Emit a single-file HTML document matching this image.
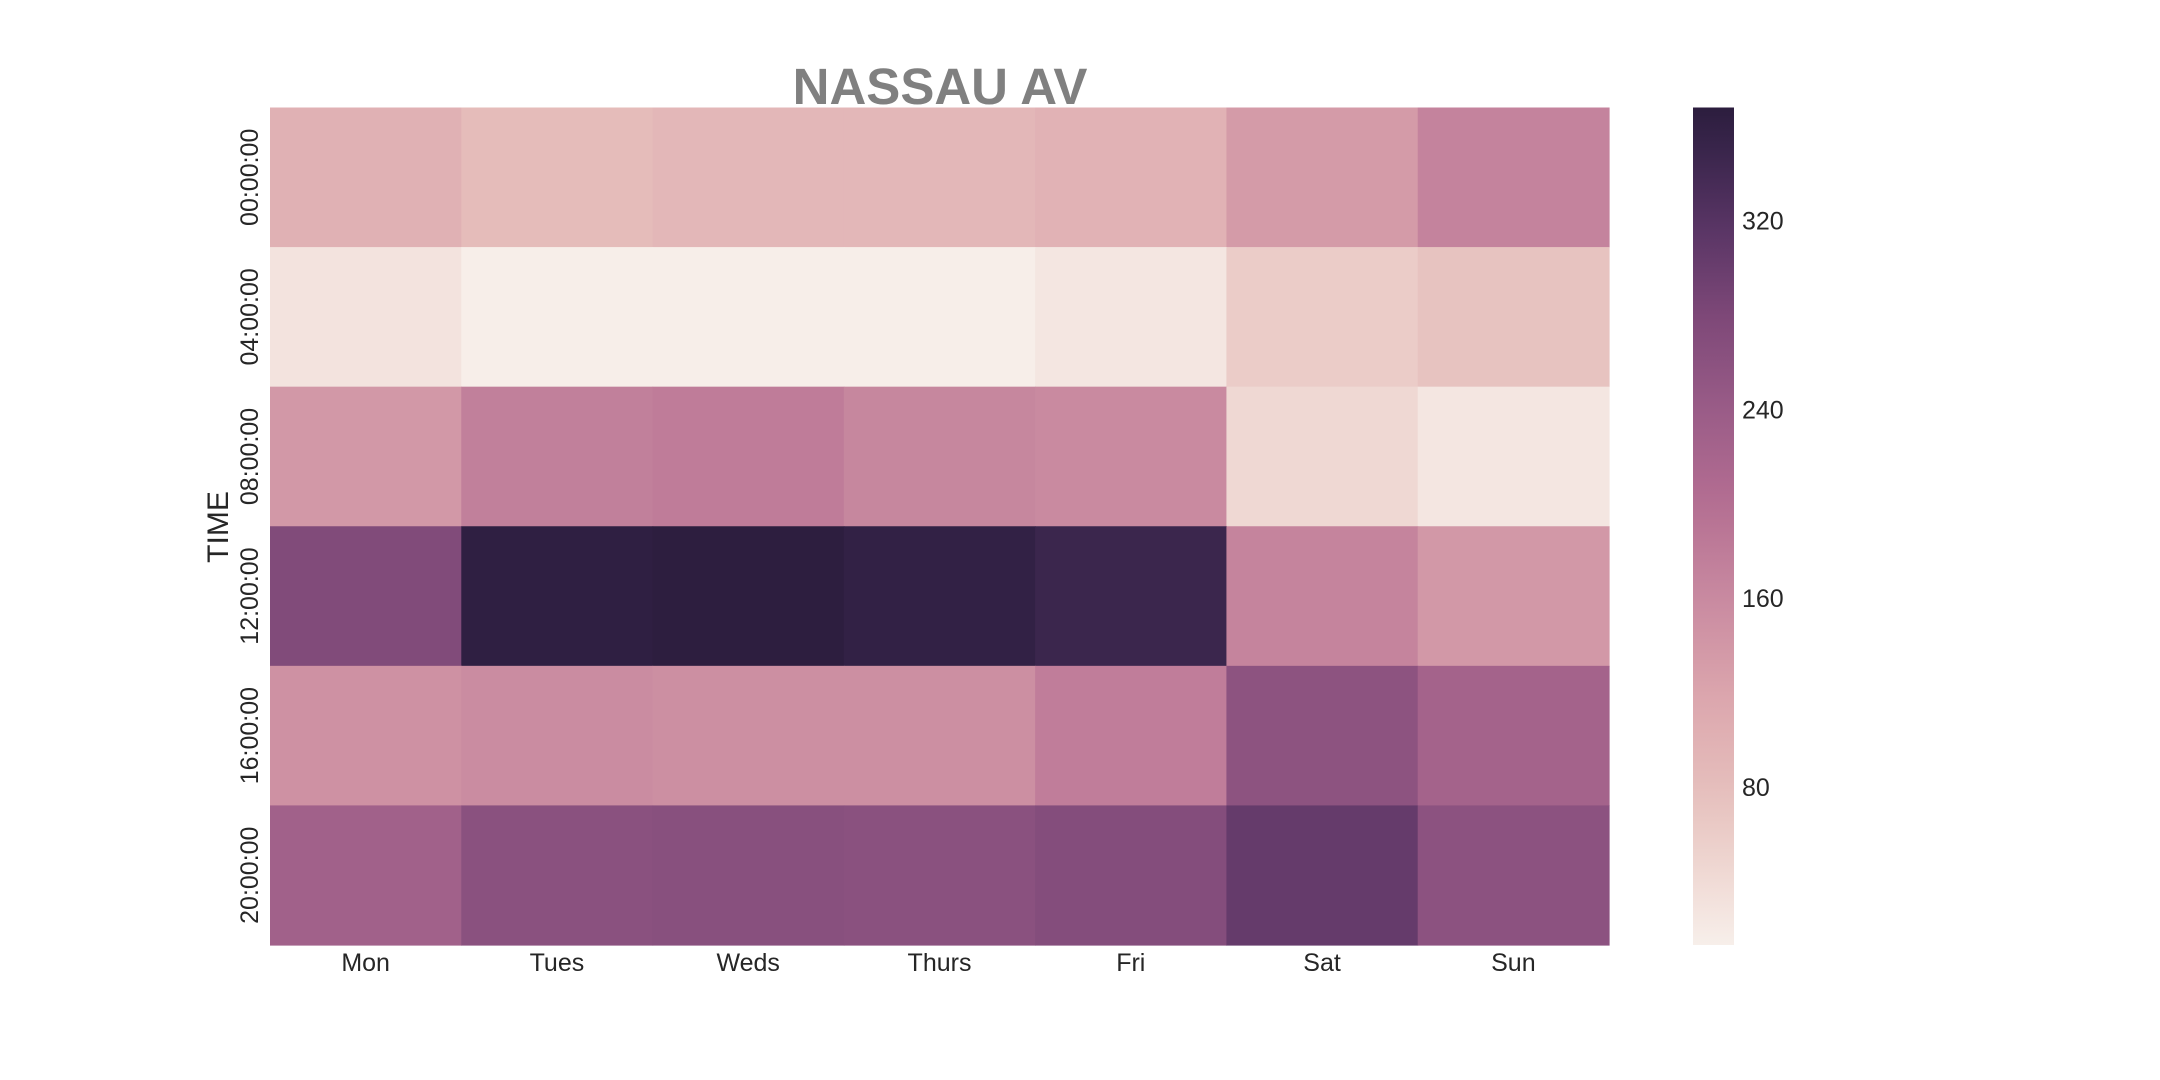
<!DOCTYPE html>
<html><head><meta charset="utf-8"><style>
html,body{margin:0;padding:0;background:#fff;}
svg{display:block;font-family:"Liberation Sans",sans-serif;}
</style></head><body>
<svg id="chart" width="2160" height="1080" viewBox="0 0 2160 1080" xmlns="http://www.w3.org/2000/svg">
<defs><linearGradient id="cbgrad" x1="0" y1="1" x2="0" y2="0"></linearGradient></defs>
<text x="940" y="104" text-anchor="middle" font-size="51" font-weight="bold" fill="#808080">NASSAU AV</text>
<text transform="translate(228,527) rotate(-90)" text-anchor="middle" font-size="30" fill="#262626">TIME</text>
<g id="cells"></g><g id="xt"></g><g id="yt"></g><g id="cb"></g>
</svg>
<script>
const days = ["Mon","Tues","Weds","Thurs","Fri","Sat","Sun"];
const times = ["00:00:00","04:00:00","08:00:00","12:00:00","16:00:00","20:00:00"];
const row0 = [100,82,90,90,98,135,170];
const row1 = [30,14,14,14,25,60,72];
const row2 = [140,175,180,165,160,45,25];
const row3 = [275,362,366,358,348,168,140];
const row4 = [150,157,153,153,178,258,225];
const row5 = [230,262,265,262,270,305,260];
const cbTicks = [80,160,240,320];
const vmin = 13, vmax = 368;

const stops = [[13,[247,239,234]],[50,[238,212,207]],[80,[229,189,187]],[120,[219,165,173]],[160,[201,138,160]],[200,[180,110,146]],[240,[154,92,135]],[280,[125,72,120]],[320,[86,51,99]],[360,[48,32,67]],[368,[44,29,62]]];
function color(v){
  for(let i=1;i<stops.length;i++){
    if(v<=stops[i][0]||i===stops.length-1){
      const a=stops[i-1],b=stops[i];let t=(v-a[0])/(b[0]-a[0]);t=Math.max(0,Math.min(1,t));
      const c=a[1].map((x,k)=>Math.round(x+(b[1][k]-x)*t));return `rgb(${c.join(',')})`;
    }
  }
}
const NS="http://www.w3.org/2000/svg";
const X0=270,X1=1609,Y0=107.5,Y1=945;
const cw=(X1-X0)/days.length, ch=(Y1-Y0)/times.length;
const xPos=i=>X0+i*cw, yPos=j=>Y0+j*ch;
const rows=[row0,row1,row2,row3,row4,row5];
const cells=document.getElementById('cells');
rows.forEach((r,j)=>r.forEach((v,i)=>{
  const e=document.createElementNS(NS,'rect');
  
  
  e.setAttribute('x',xPos(i));e.setAttribute('y',yPos(j));
  e.setAttribute('width',cw+0.6);e.setAttribute('height',ch+0.6);
  e.setAttribute('fill',color(v));cells.appendChild(e);
}));
const xt=document.getElementById('xt');
days.forEach((d,i)=>{
  const t=document.createElementNS(NS,'text');
  
  
  t.setAttribute('x',xPos(i)+cw/2);t.setAttribute('y',971);
  t.setAttribute('text-anchor','middle');t.setAttribute('font-size','25');t.setAttribute('fill','#262626');
  t.textContent=d;xt.appendChild(t);
});
const yt=document.getElementById('yt');
times.forEach((s,j)=>{
  const t=document.createElementNS(NS,'text');
  
  
  const cy=yPos(j)+ch/2;
  t.setAttribute('transform',`translate(258,${cy}) rotate(-90)`);
  t.setAttribute('text-anchor','middle');t.setAttribute('font-size','25');t.setAttribute('fill','#262626');
  t.textContent=s;yt.appendChild(t);
});
const g=document.getElementById('cbgrad');
for(let k=0;k<=20;k++){
  const v=vmin+(vmax-vmin)*k/20;
  const s=document.createElementNS(NS,'stop');
  s.setAttribute('offset',(k/20));s.setAttribute('stop-color',color(v));g.appendChild(s);
}
const cb=document.getElementById('cb');
const CX0=1693,CX1=1734;
const cbY=v=>Y1-(v-vmin)/(vmax-vmin)*(Y1-Y0);
const bar=document.createElementNS(NS,'rect');


bar.setAttribute('x',CX0);bar.setAttribute('y',Y0);bar.setAttribute('width',CX1-CX0);bar.setAttribute('height',Y1-Y0);
bar.setAttribute('fill','url(#cbgrad)');cb.appendChild(bar);
cbTicks.forEach(v=>{
  const t=document.createElementNS(NS,'text');
  
  
  t.setAttribute('x',1742);t.setAttribute('y',cbY(v)+9);
  t.setAttribute('font-size','25');t.setAttribute('fill','#262626');
  t.textContent=v;cb.appendChild(t);
});
</script>
</body></html>
